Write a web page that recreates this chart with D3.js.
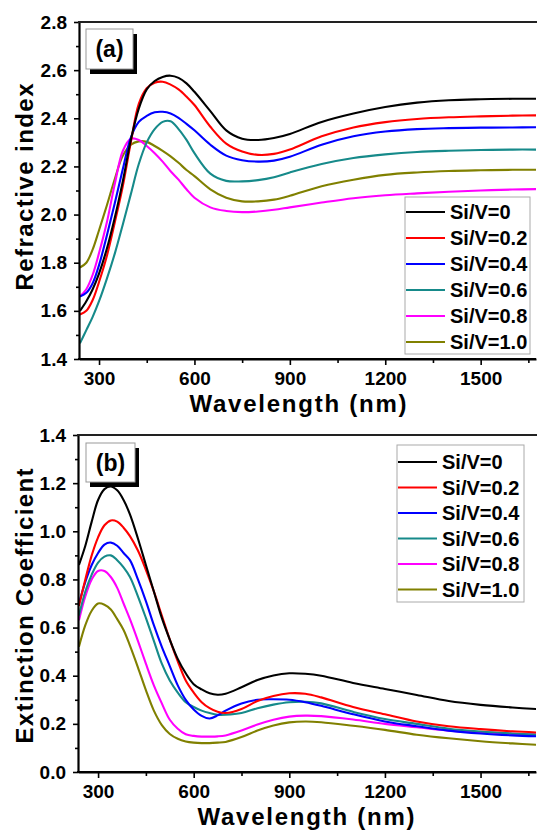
<!DOCTYPE html>
<html><head><meta charset="utf-8">
<script src="https://cdn.jsdelivr.net/npm/d3@7"></script>
<style>
html,body{margin:0;padding:0;background:#fff;}
svg{display:block;}
text{font-family:"Liberation Sans",Arial,sans-serif;font-weight:bold;fill:#000;}
</style></head>
<body><svg id="c" width="537" height="830"></svg>
<script>
// ---------- data ----------
const seriesLabels = ["Si/V=0","Si/V=0.2","Si/V=0.4","Si/V=0.6","Si/V=0.8","Si/V=1.0"];
const seriesColors = ["#000000","#ff0000","#0000ff","#168a8a","#ff00ff","#808000"];

const wlN = [240,260,280,300,325,350,375,400,425,450,475,500,525,550,575,600,650,700,750,800,850,900,1000,1100,1200,1300,1400,1500,1600,1680];
const n00 = [1.60,1.64,1.69,1.755,1.86,1.99,2.14,2.31,2.44,2.52,2.555,2.572,2.577,2.568,2.545,2.51,2.43,2.35,2.315,2.31,2.318,2.335,2.385,2.42,2.447,2.465,2.475,2.479,2.481,2.481];
const n02 = [1.585,1.60,1.645,1.72,1.83,1.97,2.12,2.30,2.46,2.525,2.548,2.552,2.54,2.52,2.49,2.455,2.365,2.295,2.262,2.248,2.252,2.27,2.325,2.362,2.384,2.397,2.404,2.408,2.411,2.412];
const n04 = [1.66,1.675,1.715,1.79,1.915,2.05,2.19,2.32,2.385,2.41,2.425,2.427,2.42,2.402,2.377,2.35,2.29,2.245,2.226,2.22,2.224,2.24,2.29,2.325,2.345,2.355,2.359,2.361,2.362,2.363];
const n06 = [1.465,1.52,1.575,1.64,1.735,1.84,1.96,2.085,2.21,2.30,2.355,2.385,2.388,2.355,2.31,2.255,2.17,2.14,2.138,2.143,2.155,2.175,2.21,2.235,2.25,2.26,2.265,2.268,2.27,2.27];
const n08 = [1.66,1.69,1.75,1.84,1.97,2.13,2.265,2.315,2.31,2.285,2.255,2.22,2.18,2.145,2.105,2.07,2.03,2.015,2.01,2.013,2.02,2.03,2.05,2.068,2.08,2.088,2.095,2.1,2.104,2.106];
const n10 = [1.78,1.80,1.855,1.935,2.04,2.15,2.245,2.29,2.304,2.302,2.285,2.265,2.242,2.215,2.185,2.16,2.105,2.07,2.055,2.055,2.062,2.078,2.118,2.145,2.165,2.175,2.181,2.184,2.186,2.186];

const wlK = [240,260,280,300,320,340,360,380,400,425,450,475,500,525,550,575,600,625,650,675,700,750,800,850,900,950,1000,1100,1200,1300,1400,1500,1600,1680];
const k00 = [0.86,0.94,1.04,1.13,1.175,1.186,1.17,1.13,1.07,0.97,0.86,0.75,0.64,0.55,0.47,0.41,0.365,0.343,0.327,0.321,0.325,0.352,0.382,0.401,0.41,0.408,0.40,0.37,0.345,0.32,0.295,0.279,0.268,0.261];
const k02 = [0.69,0.80,0.90,0.975,1.025,1.045,1.04,1.015,0.98,0.92,0.84,0.75,0.65,0.55,0.46,0.38,0.33,0.29,0.265,0.25,0.245,0.262,0.295,0.316,0.327,0.325,0.31,0.27,0.24,0.21,0.19,0.178,0.169,0.164];
const k04 = [0.70,0.79,0.86,0.91,0.945,0.953,0.94,0.91,0.88,0.80,0.71,0.61,0.52,0.44,0.36,0.30,0.26,0.233,0.222,0.235,0.255,0.285,0.30,0.302,0.30,0.29,0.275,0.24,0.21,0.19,0.172,0.16,0.152,0.148];
const k06 = [0.65,0.75,0.82,0.87,0.895,0.90,0.88,0.85,0.81,0.73,0.64,0.545,0.45,0.38,0.33,0.29,0.27,0.255,0.245,0.238,0.238,0.245,0.265,0.28,0.29,0.292,0.285,0.25,0.22,0.2,0.18,0.168,0.16,0.155];
const k08 = [0.63,0.73,0.80,0.835,0.835,0.81,0.765,0.70,0.635,0.545,0.45,0.36,0.285,0.217,0.18,0.157,0.15,0.147,0.147,0.148,0.152,0.172,0.197,0.217,0.23,0.234,0.232,0.218,0.2,0.186,0.172,0.165,0.159,0.155];
const k10 = [0.52,0.61,0.67,0.70,0.695,0.675,0.635,0.59,0.525,0.435,0.34,0.255,0.195,0.158,0.138,0.127,0.122,0.12,0.12,0.122,0.125,0.145,0.172,0.193,0.206,0.21,0.207,0.192,0.175,0.155,0.14,0.128,0.119,0.113];

const xTicks = [300,600,900,1200,1500];
const xMinorTicks = [450,750,1050,1350,1650];
const nTicks = [1.4,1.6,1.8,2.0,2.2,2.4,2.6,2.8];
const nMinorTicks = [1.5,1.7,1.9,2.1,2.3,2.5,2.7];
const kTicks = [0.0,0.2,0.4,0.6,0.8,1.0,1.2,1.4];
const kMinorTicks = [0.1,0.3,0.5,0.7,0.9,1.1,1.3];

// ---------- drawing ----------
const svg = d3.select("#c");
svg.append("rect").attr("width",537).attr("height",830).attr("fill","#fff");

function panel(cfg){
  const g = svg.append("g");
  const x = d3.scaleLinear().domain([237,1674]).range([cfg.left,536]);
  const y = d3.scaleLinear().domain(cfg.yDomain).range([cfg.bottom,cfg.top]);
  const clipId = "clip"+cfg.id;
  g.append("clipPath").attr("id",clipId).append("rect")
    .attr("x",cfg.left).attr("y",cfg.top).attr("width",536-cfg.left).attr("height",cfg.bottom-cfg.top);

  const line = d3.line().curve(d3.curveCatmullRom.alpha(0.5)).x(d=>x(d[0])).y(d=>y(d[1]));
  const lg = g.append("g").attr("clip-path","url(#"+clipId+")");
  for(let i=cfg.series.length-1;i>=0;i--){
    const pts = cfg.wl.map((w,j)=>[w,cfg.series[i][j]]);
    lg.append("path").attr("d",line(pts)).attr("fill","none")
      .attr("stroke",seriesColors[i]).attr("stroke-width",2.1);
  }

  // axes
  g.append("g").attr("transform",`translate(0,${cfg.bottom})`)
    .call(d3.axisBottom(x).tickValues(xTicks).tickSize(6).tickSizeOuter(0).tickPadding(7).tickFormat(d3.format("d")));
  g.append("g").attr("transform",`translate(0,${cfg.bottom})`)
    .call(d3.axisBottom(x).tickValues(xMinorTicks).tickSize(4).tickSizeOuter(0).tickFormat(""))
    .call(s=>s.select(".domain").remove());
  g.append("g").attr("transform",`translate(${cfg.left},0)`)
    .call(d3.axisLeft(y).tickValues(cfg.yTicks).tickSize(5).tickSizeOuter(0).tickPadding(7).tickFormat(d3.format(".1f")));
  g.append("g").attr("transform",`translate(${cfg.left},0)`)
    .call(d3.axisLeft(y).tickValues(cfg.yMinor).tickSize(3).tickSizeOuter(0).tickFormat(""))
    .call(s=>s.select(".domain").remove());
  g.selectAll(".domain").attr("stroke","#000").attr("stroke-width",2.2);
  g.selectAll(".tick line").attr("stroke","#000").attr("stroke-width",1.6);
  g.selectAll(".tick text").attr("font-size",19).attr("font-family","Liberation Sans, Arial, sans-serif").attr("font-weight","bold");
  g.append("line").attr("x1",cfg.left-1).attr("x2",536).attr("y1",cfg.bottom).attr("y2",cfg.bottom).attr("stroke","#000").attr("stroke-width",2.2);
  g.append("line").attr("x1",cfg.left-1).attr("x2",537).attr("y1",cfg.top).attr("y2",cfg.top).attr("stroke","#222").attr("stroke-width",2.2);

  // axis titles
  g.append("text").attr("x",cfg.xTitleX).attr("y",cfg.xTitleY).attr("text-anchor","middle")
    .attr("font-size",24).attr("textLength",217).attr("lengthAdjust","spacing").text("Wavelength (nm)");
  g.append("text").attr("transform",`translate(${cfg.yTitleX},${cfg.yTitleY}) rotate(-90)`).attr("text-anchor","middle")
    .attr("font-size",24).attr("textLength",cfg.yTitleLen).attr("lengthAdjust","spacing").text(cfg.yTitle);

  // panel tag
  const b = cfg.tagBox;
  g.append("rect").attr("x",b[0]+4).attr("y",b[1]+5).attr("width",b[2]).attr("height",b[3]).attr("fill","#000");
  g.append("rect").attr("x",b[0]).attr("y",b[1]).attr("width",b[2]).attr("height",b[3]).attr("fill","#fff").attr("stroke","#999").attr("stroke-width",1);
  g.append("text").attr("x",b[0]+b[2]/2).attr("y",b[1]+b[3]/2+8).attr("text-anchor","middle").attr("font-size",23).text(cfg.tag);

  // legend
  const L = cfg.legend;
  g.append("rect").attr("x",L.x).attr("y",L.y).attr("width",L.w).attr("height",L.h)
    .attr("fill","#fff").attr("stroke","#aaa").attr("stroke-width",1);
  seriesLabels.forEach((s,i)=>{
    const cy = L.row0 + i*L.dy;
    g.append("line").attr("x1",L.x+1).attr("x2",L.x+L.lineW).attr("y1",cy).attr("y2",cy)
      .attr("stroke",seriesColors[i]).attr("stroke-width",2);
    g.append("text").attr("x",L.x+L.lineW+5).attr("y",cy+7).attr("font-size",20).text(s);
  });
}

panel({id:"a", left:79, top:22, bottom:359, yDomain:[1.4,2.8], yTicks:nTicks, yMinor:nMinorTicks,
  wl:wlN, series:[n00,n02,n04,n06,n08,n10], yTitle:"Refractive index", yTitleLen:207, yTitleX:33, yTitleY:187,
  xTitleX:298, xTitleY:412, tag:"(a)", tagBox:[86,29,47,40],
  legend:{x:405,y:197,w:125,h:157,row0:212,dy:26,lineW:40}});

panel({id:"b", left:78, top:435, bottom:772, yDomain:[0,1.4], yTicks:kTicks, yMinor:kMinorTicks,
  wl:wlK, series:[k00,k02,k04,k06,k08,k10], yTitle:"Extinction Coefficient", yTitleLen:275, yTitleX:33, yTitleY:606,
  xTitleX:306, xTitleY:825, tag:"(b)", tagBox:[86,443,49,39],
  legend:{x:397,y:445,w:127,h:157,row0:462,dy:25.5,lineW:40}});
</script>
</body></html>
